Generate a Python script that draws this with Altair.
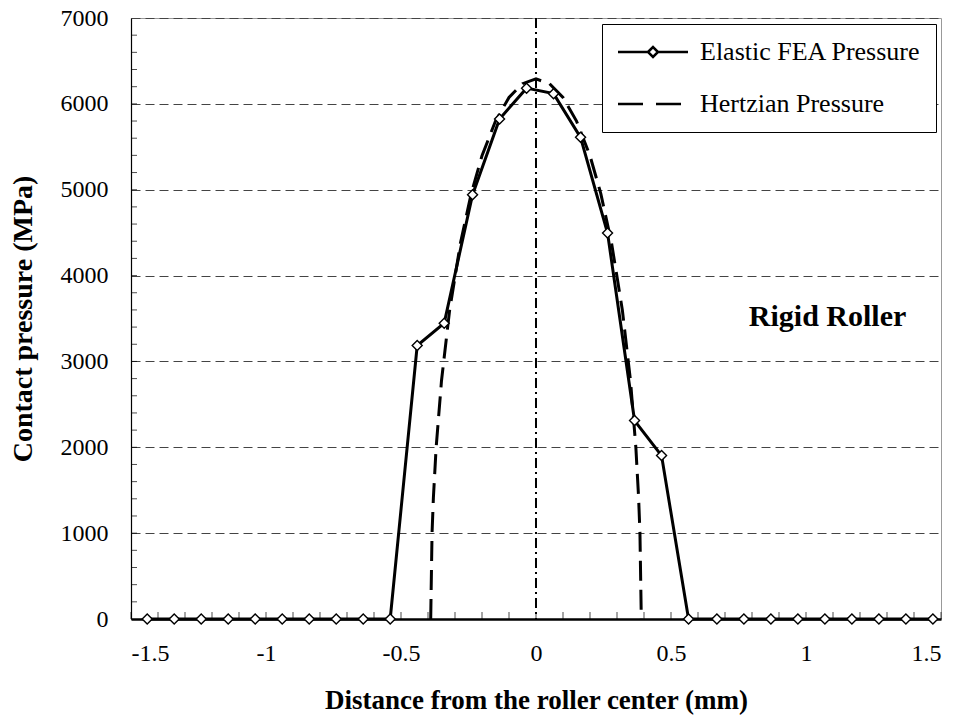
import altair as alt
import pandas as pd

# Elastic FEA contact pressure at the surface nodes
fea_x = [-1.44, -1.34, -1.24, -1.14, -1.04, -0.94, -0.84, -0.74, -0.64, -0.54,
         -0.44, -0.34, -0.235, -0.135, -0.035, 0.065, 0.165, 0.265, 0.365, 0.465,
         0.565, 0.67, 0.77, 0.87, 0.97, 1.07, 1.17, 1.27, 1.37, 1.47]
fea_p = [0, 0, 0, 0, 0, 0, 0, 0, 0, 0,
         3185, 3446, 4942, 5824, 6183, 6119, 5610, 4495, 2311, 1903,
         0, 0, 0, 0, 0, 0, 0, 0, 0, 0]

# Hertzian (analytical) pressure profile
hz_x = [-0.39, -0.385, -0.38, -0.37, -0.35, -0.32, -0.28, -0.24, -0.2, -0.15, -0.1, -0.05, 0.0,
        0.05, 0.1, 0.15, 0.2, 0.24, 0.28, 0.32, 0.35, 0.37, 0.38, 0.385, 0.39]
hz_p = [0, 1000, 1415, 1990, 2775, 3595, 4375, 4955, 5395, 5800, 6075, 6235, 6290,
        6235, 6075, 5800, 5395, 4955, 4375, 3595, 2775, 1990, 1415, 1000, 0]

series = ["Elastic FEA Pressure", "Hertzian Pressure"]
x_ticks = [-1.5, -1, -0.5, 0, 0.5, 1, 1.5]
y_ticks = [0, 1000, 2000, 3000, 4000, 5000, 6000, 7000]
x_minor = [round(-1.5 + 0.1 * i, 2) for i in range(31)]
y_minor = [200 * i for i in range(1, 35)]

FONT = "Liberation Serif"

fea = pd.DataFrame({"x": fea_x, "p": fea_p, "s": series[0]})
hz = pd.DataFrame({"x": hz_x, "p": hz_p, "s": series[1]})

xs = alt.Scale(domain=[-1.5, 1.5], nice=False, zero=False)
ys = alt.Scale(domain=[0, 7000], nice=False)

x_enc = alt.X(
    "x:Q", scale=xs,
    axis=alt.Axis(values=x_ticks, labelExpr="datum.value", ticks=False, grid=False,
                  domainColor="black", domainWidth=2.5, labelPadding=22,
                  labelFont=FONT, labelFontSize=24, labelColor="black",
                  title="Distance from the roller center (mm)", titleFont=FONT,
                  titleFontSize=27, titleFontWeight="bold", titleColor="black",
                  titlePadding=22),
)
y_enc = alt.Y(
    "p:Q", scale=ys,
    axis=alt.Axis(values=y_ticks, labelExpr="datum.value", ticks=False, grid=True,
                  gridColor="#444", gridDash=[9, 5], gridWidth=1,
                  domainColor="black", domainWidth=1.2, labelPadding=23,
                  labelFont=FONT, labelFontSize=24, labelColor="black",
                  title="Contact pressure (MPa)", titleFont=FONT,
                  titleFontSize=28, titleFontWeight="bold", titleColor="black",
                  titlePadding=23),
)

# centre line of the roller
center = alt.Chart(pd.DataFrame({"x": [0]})).mark_rule(
    color="black", strokeWidth=2, strokeDash=[10, 4, 2, 4]
).encode(x=alt.X("x:Q", scale=xs))

# inward minor ticks
xt = alt.Chart(pd.DataFrame({"x": x_minor})).mark_tick(
    orient="vertical", color="black", size=7, thickness=1, yOffset=-3.5
).encode(x=alt.X("x:Q", scale=xs), y=alt.datum(0, scale=ys))
yt = alt.Chart(pd.DataFrame({"p": y_minor})).mark_tick(
    orient="horizontal", color="black", size=6, thickness=1, xOffset=3
).encode(y=alt.Y("p:Q", scale=ys), x=alt.datum(-1.5, scale=xs))

hz_line = alt.Chart(hz).mark_line(
    color="black", strokeWidth=3, strokeDash=[20, 9]
).encode(x=x_enc, y=y_enc)

fea_line = alt.Chart(fea).mark_line(color="black", strokeWidth=3).encode(x=x_enc, y=y_enc)
fea_pts = alt.Chart(fea).mark_point(
    shape="diamond", filled=True, fill="white", stroke="black", strokeWidth=1.4, size=100, opacity=1
).encode(x=x_enc, y=y_enc)

# legend-only layer: no rows, symbols come from the shape scale domain
leg_paths = [
    "M-7,0H-1M1,0H7M-1,0L0,-1L1,0L0,1Z",
    "M-7,0H-2M0.6,0H5.6",
]
legend_layer = alt.Chart(fea).transform_filter("datum.p < -1").mark_point(
    filled=False, color="black", strokeWidth=2.5, opacity=1
).encode(
    x=alt.X("x:Q", scale=xs),
    y=alt.Y("p:Q", scale=ys),
    shape=alt.Shape(
        "s:N",
        scale=alt.Scale(domain=series, range=leg_paths),
        legend=alt.Legend(
            title=None, orient="none", legendX=471, legendY=6,
            strokeColor="black", fillColor="white", padding=15,
            labelFont=FONT, labelFontSize=26, labelColor="black", labelLimit=400,
            symbolSize=100, symbolOffset=23, labelOffset=34, rowPadding=26,
            symbolStrokeWidth=2.5, symbolStrokeColor="black", symbolOpacity=1,
        ),
    ),
)

label = alt.Chart(pd.DataFrame({"x": [1.08], "p": [3520], "t": ["Rigid Roller"]})).mark_text(
    font=FONT, fontSize=30, fontWeight="bold", color="black"
).encode(x=alt.X("x:Q", scale=xs), y=alt.Y("p:Q", scale=ys), text="t:N")

chart = alt.layer(
    center, xt, yt, hz_line, fea_line, fea_pts, legend_layer, label
).properties(
    width=810, height=601,
    padding={"left": 131, "top": 18, "right": 23, "bottom": 108},
    autosize=alt.AutoSizeParams(type="none"),
    background="white",
).configure_view(stroke="#999", strokeWidth=1)

chart.save("out.html", embed_options={"renderer": "svg", "actions": False})
